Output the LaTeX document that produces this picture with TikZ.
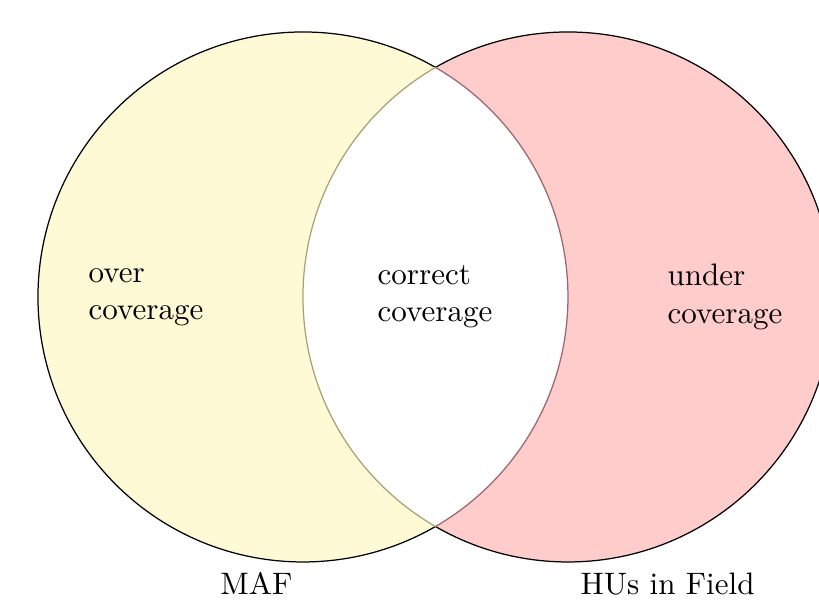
\documentclass[tikz,border=0pt]{standalone}
\begin{document}
\begin{tikzpicture}[
  lbl/.style={align=left, inner sep=0pt, anchor=west, font=\normalsize},
  setlbl/.style={inner sep=0pt, anchor=base west, font=\normalsize}
]
\definecolor{mafyellow}{RGB}{255,250,214}
\definecolor{hured}{RGB}{255,204,204}
\useasboundingbox (-3.430,-3.430) rectangle (5.842,3.362);
\coordinate (cL) at (0,0);
\coordinate (cR) at (3,0);
% fills
\fill[mafyellow] (cL) circle (3);
\fill[hured] (cR) circle (3);
\begin{scope}
  \clip (cL) circle (3);
  \fill[white] (cR) circle (3);
\end{scope}
% outer outlines
\begin{scope}[even odd rule]
  \clip (-4,-4) rectangle (7,4) (cR) circle (3);
  \draw[black, line width=0.4pt] (cL) circle (3);
\end{scope}
\begin{scope}[even odd rule]
  \clip (-4,-4) rectangle (7,4) (cL) circle (3);
  \draw[black, line width=0.4pt] (cR) circle (3);
\end{scope}
% inner arcs
\begin{scope}
  \clip (cR) circle (3);
  \draw[color={rgb,255:red,160;green,100;blue,110}, line width=0.4pt] (cL) circle (3);
\end{scope}
\begin{scope}
  \clip (cL) circle (3);
  \draw[color={rgb,255:red,170;green,160;blue,120}, line width=0.4pt] (cR) circle (3);
\end{scope}
% labels
\node[lbl] (over) at (-2.434,0) {over\\coverage};
\node[lbl] (correct) at (0.838,0) {correct\\coverage};
\node[lbl] (under) at (4.121,0) {under\\coverage};
\node[setlbl] (maf) at (-0.942,-3.374) {MAF};
\node[setlbl] (hus) at (3.136,-3.374) {HUs in Field};
\end{tikzpicture}
\end{document}
